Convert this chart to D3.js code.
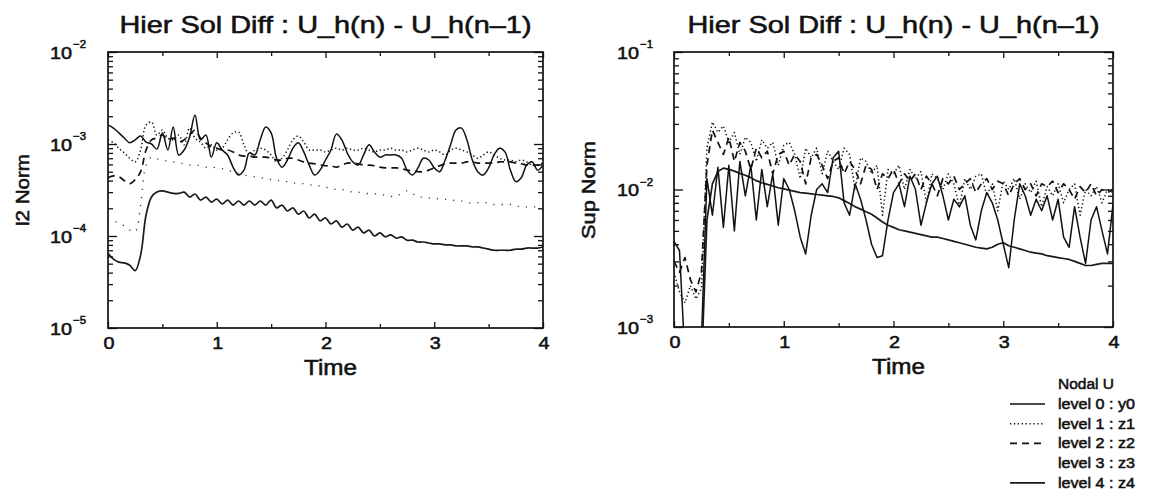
<!DOCTYPE html>
<html>
<head>
<meta charset="utf-8">
<script src="https://cdn.jsdelivr.net/npm/d3@7"></script>
<style>
  body { margin: 0; background: #fff; }
  svg { display: block; }
  text { font-family: "Liberation Sans", Arial, Helvetica, sans-serif; fill: #111; stroke: #111; stroke-width: 0.55px; }
</style>
</head>
<body>
<svg id="chart" width="1162" height="501"></svg>
<script>
// ---- data -------------------------------------------------------------
const time = [0,0.05,0.1,0.15,0.2,0.25,0.3,0.35,0.4,0.45,0.5,0.55,0.6,0.65,0.7,0.75,0.8,0.85,0.9,0.95,
  1,1.05,1.1,1.15,1.2,1.25,1.3,1.35,1.4,1.45,1.5,1.55,1.6,1.65,1.7,1.75,1.8,1.85,1.9,1.95,
  2,2.05,2.1,2.15,2.2,2.25,2.3,2.35,2.4,2.45,2.5,2.55,2.6,2.65,2.7,2.75,2.8,2.85,2.9,2.95,
  3,3.05,3.1,3.15,3.2,3.25,3.3,3.35,3.4,3.45,3.5,3.55,3.6,3.65,3.7,3.75,3.8,3.85,3.9,3.95,4];

// l2 norm of U_h(n) - U_h(n-1), per hierarchical level
const l2Level0 = [1.61e-3,1.49e-3,1.32e-3,1.16e-3,1.03e-3,1.11e-3,1.22e-3,1.05e-3,1.0e-3,8.8e-4,
  1.32e-3,8.6e-4,1.53e-3,7.6e-4,8.6e-4,1.19e-3,2.07e-3,1.11e-3,1.25e-3,7.2e-4,
  1.03e-3,8.6e-4,7.6e-4,5.6e-4,4.6e-4,5.2e-4,8.0e-4,7.6e-4,1.11e-3,1.53e-3,
  1.32e-3,7.0e-4,5.6e-4,6.7e-4,9.0e-4,1.03e-3,8.2e-4,5.9e-4,4.6e-4,5.2e-4,
  6.7e-4,8.6e-4,1.28e-3,1.11e-3,8.0e-4,6.4e-4,5.9e-4,7.6e-4,9.8e-4,8.2e-4,
  7.2e-4,7.6e-4,7.6e-4,7.6e-4,7.0e-4,5.2e-4,4.6e-4,5.5e-4,7.0e-4,6.7e-4,
  5.5e-4,5.0e-4,6.7e-4,9.8e-4,1.42e-3,1.49e-3,1.11e-3,6.7e-4,5.0e-4,4.6e-4,
  5.5e-4,7.6e-4,9.0e-4,8.2e-4,5.2e-4,3.9e-4,4.3e-4,5.9e-4,6.4e-4,5.2e-4,5.9e-4];
const l2Level1 = [1.11e-3,1.03e-3,9.0e-4,8.0e-4,7.0e-4,6.4e-4,8.6e-4,1.61e-3,1.73e-3,1.25e-3,
  1.42e-3,1.16e-3,1.11e-3,1.25e-3,9.8e-4,1.49e-3,1.16e-3,1.05e-3,9.0e-4,9.8e-4,
  8.6e-4,9.0e-4,1.11e-3,1.32e-3,1.35e-3,9.8e-4,7.6e-4,8.6e-4,9.0e-4,8.6e-4,
  7.6e-4,6.4e-4,7.0e-4,8.6e-4,1.11e-3,1.22e-3,1.05e-3,8.6e-4,8.6e-4,8.6e-4,
  8.2e-4,8.6e-4,9.0e-4,8.6e-4,9.0e-4,8.6e-4,8.6e-4,9.0e-4,8.6e-4,8.2e-4,
  8.6e-4,8.6e-4,9.0e-4,8.6e-4,8.6e-4,8.2e-4,8.6e-4,9.0e-4,8.6e-4,8.2e-4,
  8.6e-4,8.2e-4,7.6e-4,8.6e-4,9.0e-4,8.6e-4,8.2e-4,7.6e-4,7.0e-4,7.6e-4,
  8.2e-4,7.6e-4,7.0e-4,6.7e-4,6.7e-4,6.4e-4,6.7e-4,6.4e-4,5.9e-4,5.9e-4,6.2e-4];
const l2Level2 = [4.3e-4,4.5e-4,4.4e-4,4.0e-4,3.7e-4,4.1e-4,5.0e-4,8.6e-4,1.11e-3,1.16e-3,
  1.25e-3,1.11e-3,1.16e-3,1.05e-3,1.11e-3,1.25e-3,1.42e-3,1.16e-3,1.03e-3,9.3e-4,
  9.0e-4,8.6e-4,8.6e-4,8.2e-4,7.6e-4,7.4e-4,7.4e-4,7.2e-4,7.2e-4,7.2e-4,
  7.0e-4,6.7e-4,6.7e-4,7.0e-4,7.0e-4,6.7e-4,6.4e-4,6.2e-4,6.1e-4,5.9e-4,
  5.8e-4,5.8e-4,5.6e-4,5.9e-4,6.2e-4,6.2e-4,6.1e-4,5.9e-4,5.9e-4,5.8e-4,
  5.6e-4,5.5e-4,5.5e-4,5.5e-4,5.4e-4,5.2e-4,5.1e-4,5.0e-4,5.0e-4,5.2e-4,
  5.5e-4,5.8e-4,6.1e-4,6.2e-4,6.2e-4,6.2e-4,6.4e-4,6.4e-4,6.2e-4,6.2e-4,
  6.2e-4,6.2e-4,6.4e-4,6.4e-4,6.4e-4,6.2e-4,6.1e-4,5.9e-4,5.9e-4,5.9e-4,5.9e-4];
const l2Level3 = [1.57e-4,1.46e-4,1.38e-4,1.28e-4,1.16e-4,1.11e-4,2.17e-4,5.9e-4,7.2e-4,6.9e-4,
  6.7e-4,6.5e-4,6.4e-4,6.2e-4,6.1e-4,5.9e-4,5.9e-4,5.8e-4,5.6e-4,5.6e-4,
  5.5e-4,5.4e-4,5.2e-4,5.0e-4,4.8e-4,4.6e-4,4.5e-4,4.4e-4,4.3e-4,4.2e-4,
  4.1e-4,4.0e-4,4.0e-4,3.9e-4,3.8e-4,3.7e-4,3.7e-4,3.6e-4,3.6e-4,3.5e-4,
  3.4e-4,3.3e-4,3.2e-4,3.2e-4,3.1e-4,3.0e-4,3.0e-4,2.9e-4,2.9e-4,2.9e-4,
  2.8e-4,2.8e-4,2.7e-4,2.7e-4,2.9e-4,3.1e-4,2.9e-4,2.65e-4,2.65e-4,2.6e-4,
  2.6e-4,2.5e-4,2.5e-4,2.5e-4,2.4e-4,2.4e-4,2.3e-4,2.3e-4,2.3e-4,2.3e-4,
  2.3e-4,2.2e-4,2.2e-4,2.2e-4,2.2e-4,2.1e-4,2.1e-4,2.07e-4,2.07e-4,2.07e-4,2.07e-4];
const l2Level4 = [6.5e-5,5.6e-5,5.2e-5,5.1e-5,4.8e-5,4.2e-5,6.2e-5,1.69e-4,2.65e-4,3.0e-4,
  3.1e-4,3.0e-4,2.9e-4,2.9e-4,3.0e-4,2.65e-4,2.86e-4,2.46e-4,2.65e-4,2.34e-4,
  2.52e-4,2.23e-4,2.46e-4,2.17e-4,2.40e-4,2.17e-4,2.40e-4,2.17e-4,2.40e-4,2.17e-4,
  2.46e-4,2.02e-4,2.17e-4,1.87e-4,2.02e-4,1.73e-4,1.87e-4,1.57e-4,1.73e-4,1.46e-4,
  1.57e-4,1.35e-4,1.46e-4,1.25e-4,1.35e-4,1.16e-4,1.25e-4,1.08e-4,1.16e-4,1.00e-4,
  1.08e-4,9.8e-5,1.03e-4,9.5e-5,9.8e-5,9.0e-5,9.0e-5,8.6e-5,8.6e-5,8.4e-5,
  8.2e-5,8.2e-5,8.0e-5,8.0e-5,7.8e-5,7.8e-5,7.8e-5,7.6e-5,7.6e-5,7.4e-5,
  7.2e-5,7.0e-5,7.0e-5,7.0e-5,7.0e-5,7.2e-5,7.2e-5,7.4e-5,7.4e-5,7.4e-5,7.6e-5];

// sup norm of U_h(n) - U_h(n-1), per hierarchical level
const supLevel0 = [4.2e-3,3.6e-3,6e-4,7e-4,6e-4,8e-4,1.2e-2,6.5e-3,1.45e-2,5.3e-3,
  1.5e-2,5.0e-3,1.6e-2,9e-3,1.5e-2,6.0e-3,1.4e-2,7.5e-3,1.3e-2,5.5e-3,
  1.2e-2,1.0e-2,7.0e-3,4.5e-3,3.4e-3,6.5e-3,1.0e-2,1.1e-2,9.5e-3,1.7e-2,
  1.9e-2,8.0e-3,6.5e-3,1.1e-2,8.5e-3,6.0e-3,4.0e-3,3.2e-3,3.3e-3,6.0e-3,
  9.5e-3,1.1e-2,7.5e-3,1.25e-2,1.0e-2,5.5e-3,8.0e-3,1.1e-2,1.25e-2,9.0e-3,
  6.0e-3,8.5e-3,7.5e-3,9.0e-3,5.5e-3,4.3e-3,7.0e-3,9.5e-3,8.0e-3,6.0e-3,
  4.0e-3,2.7e-3,6.0e-3,1.1e-2,9.0e-3,6.5e-3,8.5e-3,7.0e-3,9.0e-3,6.0e-3,
  8.5e-3,4.5e-3,3.8e-3,7.5e-3,4.5e-3,2.9e-3,6.0e-3,7.5e-3,5.0e-3,3.4e-3,7.8e-3];
const supLevel1 = [2.5e-3,1.8e-3,1.5e-3,2.0e-3,1.6e-3,1.9e-3,2.0e-2,3.1e-2,2.6e-2,2.9e-2,
  2.2e-2,2.6e-2,1.8e-2,2.4e-2,2.2e-2,1.6e-2,2.3e-2,2.0e-2,2.2e-2,1.5e-2,
  2.1e-2,2.2e-2,1.8e-2,1.2e-2,2.0e-2,1.7e-2,2.0e-2,1.3e-2,1.9e-2,1.6e-2,
  1.4e-2,2.0e-2,1.8e-2,1.0e-2,1.7e-2,1.6e-2,1.3e-2,1.5e-2,6.5e-3,1.4e-2,
  1.3e-2,1.5e-2,1.0e-2,1.4e-2,1.2e-2,1.35e-2,8.0e-3,1.3e-2,1.2e-2,1.0e-2,
  1.3e-2,1.1e-2,7.5e-3,1.2e-2,1.0e-2,1.25e-2,1.3e-2,9.0e-3,1.1e-2,7.0e-3,
  1.15e-2,1.0e-2,1.2e-2,8.5e-3,1.1e-2,9.5e-3,1.15e-2,7.5e-3,1.05e-2,9.0e-3,
  1.1e-2,8.0e-3,1.0e-2,1.1e-2,6.5e-3,1.0e-2,9.0e-3,1.05e-2,8.0e-3,1.0e-2,9.5e-3];
const supLevel2 = [3.0e-3,2.5e-3,3.2e-3,2.2e-3,1.8e-3,2.5e-3,1.5e-2,2.7e-2,2.2e-2,1.8e-2,
  2.4e-2,1.6e-2,2.2e-2,1.9e-2,1.4e-2,2.0e-2,1.7e-2,1.9e-2,1.3e-2,1.8e-2,
  1.9e-2,1.5e-2,1.8e-2,1.6e-2,1.1e-2,1.7e-2,1.8e-2,1.5e-2,1.2e-2,1.6e-2,
  1.7e-2,1.3e-2,1.6e-2,1.4e-2,1.1e-2,1.5e-2,1.4e-2,1.0e-2,1.3e-2,1.2e-2,
  1.4e-2,1.1e-2,1.3e-2,1.15e-2,1.3e-2,1.0e-2,1.25e-2,1.1e-2,9.0e-3,1.2e-2,
  1.1e-2,1.25e-2,1.0e-2,1.1e-2,1.2e-2,9.5e-3,1.1e-2,1.2e-2,1.0e-2,1.15e-2,
  1.1e-2,9.0e-3,1.1e-2,1.2e-2,1.0e-2,1.1e-2,9.0e-3,1.1e-2,1.05e-2,1.15e-2,
  9.5e-3,1.1e-2,1.0e-2,8.5e-3,1.05e-2,9.5e-3,1.1e-2,9.0e-3,1.0e-2,9.5e-3,1.0e-2];
const supLevel4 = [5e-4,5e-4,5e-4,5e-4,5e-4,5e-4,6.0e-3,1.10e-2,1.35e-2,1.43e-2,
  1.40e-2,1.36e-2,1.31e-2,1.27e-2,1.22e-2,1.16e-2,1.12e-2,1.09e-2,1.06e-2,1.03e-2,
  1.01e-2,9.9e-3,9.7e-3,9.5e-3,9.4e-3,9.3e-3,9.2e-3,9.1e-3,9.0e-3,8.9e-3,
  8.7e-3,8.3e-3,7.9e-3,7.5e-3,7.2e-3,6.9e-3,6.6e-3,6.2e-3,5.8e-3,5.5e-3,
  5.3e-3,5.1e-3,5.0e-3,4.9e-3,4.8e-3,4.7e-3,4.6e-3,4.5e-3,4.5e-3,4.4e-3,
  4.3e-3,4.2e-3,4.1e-3,4.0e-3,3.9e-3,3.8e-3,3.75e-3,3.7e-3,3.8e-3,4.0e-3,
  4.1e-3,3.9e-3,3.8e-3,3.7e-3,3.6e-3,3.5e-3,3.45e-3,3.4e-3,3.3e-3,3.25e-3,
  3.2e-3,3.15e-3,3.1e-3,3.0e-3,2.9e-3,2.8e-3,2.8e-3,2.85e-3,2.9e-3,2.9e-3,2.9e-3];

const levelLabels = ["level 0 : y0", "level 1 : z1", "level 2 : z2", "level 3 : z3", "level 4 : z4"];
const legendTitle = "Nodal U";
const timeTicks = [0, 1, 2, 3, 4];
const timeHalfTicks = [0.5, 1.5, 2.5, 3.5];
const l2Decades = [1e-5, 1e-4, 1e-3, 1e-2];
const supDecades = [1e-3, 1e-2, 1e-1];
const plotTitle = "Hier Sol Diff : U_h(n) - U_h(n\u20131)";

// ---- styles -------------------------------------------------------------
const levelStyle = [
  { width: 1.5, dash: null,       color: "#111", legend: true },
  { width: 1.5, dash: "1.3,2.6",  color: "#111", legend: true },
  { width: 1.7, dash: "7,5",      color: "#111", legend: true },
  { width: 1.3, dash: "1.2,7",    color: "#333", legend: false },
  { width: 1.7, dash: null,       color: "#1a1a1a", legend: true }
];

const svg = d3.select("#chart");

function txt(parent, x, y, s, size, opts = {}) {
  const t = parent.append("text")
    .attr("x", x).attr("y", y)
    .attr("font-size", size)
    .attr("text-anchor", opts.anchor || "start")
    .text(s);
  if (opts.len) t.attr("textLength", opts.len).attr("lengthAdjust", "spacingAndGlyphs");
  if (opts.rotate) t.attr("transform", `rotate(-90,${x},${y})`);
  return t;
}

function panel(cfg) {
  const x = d3.scaleLinear().domain([0, 4]).range([cfg.x0, cfg.x1]);
  const y = d3.scaleLog().domain(cfg.domain).range([cfg.y1, cfg.y0]);
  const g = svg.append("g");

  const clipId = "clip-" + cfg.id;
  g.append("clipPath").attr("id", clipId).append("rect")
    .attr("x", cfg.x0).attr("y", cfg.y0)
    .attr("width", cfg.x1 - cfg.x0).attr("height", cfg.y1 - cfg.y0);

  const lines = g.append("g").attr("clip-path", `url(#${clipId})`);
  cfg.series.forEach(s => {
    const st = levelStyle[s.level];
    const line = d3.line()
      .x((d, i) => x(time[i]))
      .y(d => y(d))
      .curve(cfg.curve);
    lines.append("path")
      .attr("d", line(s.values))
      .attr("fill", "none")
      .attr("stroke", st.color)
      .attr("stroke-width", st.width)
      .attr("stroke-dasharray", st.dash)
      .attr("stroke-linejoin", "round");
  });

  // inward ticks on all four sides
  const minor = y.ticks().filter(v => !cfg.decades.includes(v));
  const noLab = () => "";
  const addAxis = (axis, tr) => {
    const a = g.append("g").attr("transform", tr).call(axis);
    a.select(".domain").remove();
    a.selectAll(".tick line").attr("stroke", "#111").attr("stroke-width", 1.3);
  };
  addAxis(d3.axisLeft(y).tickValues(cfg.decades).tickSize(-9).tickFormat(noLab), `translate(${cfg.x0},0)`);
  addAxis(d3.axisLeft(y).tickValues(minor).tickSize(-5).tickFormat(noLab), `translate(${cfg.x0},0)`);
  addAxis(d3.axisRight(y).tickValues(cfg.decades).tickSize(-9).tickFormat(noLab), `translate(${cfg.x1},0)`);
  addAxis(d3.axisRight(y).tickValues(minor).tickSize(-5).tickFormat(noLab), `translate(${cfg.x1},0)`);
  addAxis(d3.axisBottom(x).tickValues(timeTicks).tickSize(-6).tickFormat(noLab), `translate(0,${cfg.y1})`);
  addAxis(d3.axisBottom(x).tickValues(timeHalfTicks).tickSize(-4).tickFormat(noLab), `translate(0,${cfg.y1})`);
  addAxis(d3.axisTop(x).tickValues(timeTicks).tickSize(-6).tickFormat(noLab), `translate(0,${cfg.y0})`);
  addAxis(d3.axisTop(x).tickValues(timeHalfTicks).tickSize(-4).tickFormat(noLab), `translate(0,${cfg.y0})`);

  g.append("rect")
    .attr("x", cfg.x0).attr("y", cfg.y0)
    .attr("width", cfg.x1 - cfg.x0).attr("height", cfg.y1 - cfg.y0)
    .attr("fill", "none").attr("stroke", "#111").attr("stroke-width", 1.7);

  // decade labels 10^k
  cfg.decades.forEach(v => {
    const yy = y(v);
    const e = Math.round(Math.log10(v));
    txt(g, cfg.labX, yy + 6.5, "10", 17, { len: 22 });
    txt(g, cfg.labX + 23, yy - 4, "\u2212" + Math.abs(e), 11.5, { len: 13 });
  });

  // time labels
  timeTicks.forEach(v => {
    txt(g, x(v) + 1, cfg.y1 + 21, String(v), 17, { anchor: "middle", len: 11 });
  });
  txt(g, (cfg.x0 + cfg.x1) / 2 + 5, cfg.y1 + 47, "Time", 22, { anchor: "middle", len: 53 });

  txt(g, (cfg.x0 + cfg.x1) / 2, 33, plotTitle, 24, { anchor: "middle", len: 412 });
  txt(g, cfg.yLabX, 190, cfg.yLabel, 19, { anchor: "middle", rotate: true, len: cfg.yLabLen });
}

panel({
  id: "l2", x0: 108, x1: 543, y0: 52, y1: 328,
  domain: [1e-5, 1e-2], decades: l2Decades, labX: 50,
  yLabel: "l2 Norm", yLabX: 29, yLabLen: 72,
  curve: d3.curveCatmullRom.alpha(0.5),
  series: [
    { level: 3, values: l2Level3 },
    { level: 2, values: l2Level2 },
    { level: 1, values: l2Level1 },
    { level: 0, values: l2Level0 },
    { level: 4, values: l2Level4 }
  ]
});

panel({
  id: "sup", x0: 674, x1: 1113, y0: 52, y1: 327,
  domain: [1e-3, 1e-1], decades: supDecades, labX: 617,
  yLabel: "Sup Norm", yLabX: 595, yLabLen: 98,
  curve: d3.curveLinear,
  series: [
    { level: 2, values: supLevel2 },
    { level: 1, values: supLevel1 },
    { level: 4, values: supLevel4 },
    { level: 0, values: supLevel0 }
  ]
});

// ---- legend ---------------------------------------------------------------
const lg = svg.append("g");
txt(lg, 1058, 389, legendTitle, 15.5);
levelLabels.forEach((lab, i) => {
  const by = 409 + i * 19.7;
  const st = levelStyle[i];
  if (st.legend) {
    lg.append("line")
      .attr("x1", 1010).attr("x2", 1045)
      .attr("y1", by - 5).attr("y2", by - 5)
      .attr("stroke", st.color)
      .attr("stroke-width", st.width)
      .attr("stroke-dasharray", st.dash);
  }
  txt(lg, 1058, by, lab, 15.5, { len: 77 });
});
</script>
</body>
</html>
